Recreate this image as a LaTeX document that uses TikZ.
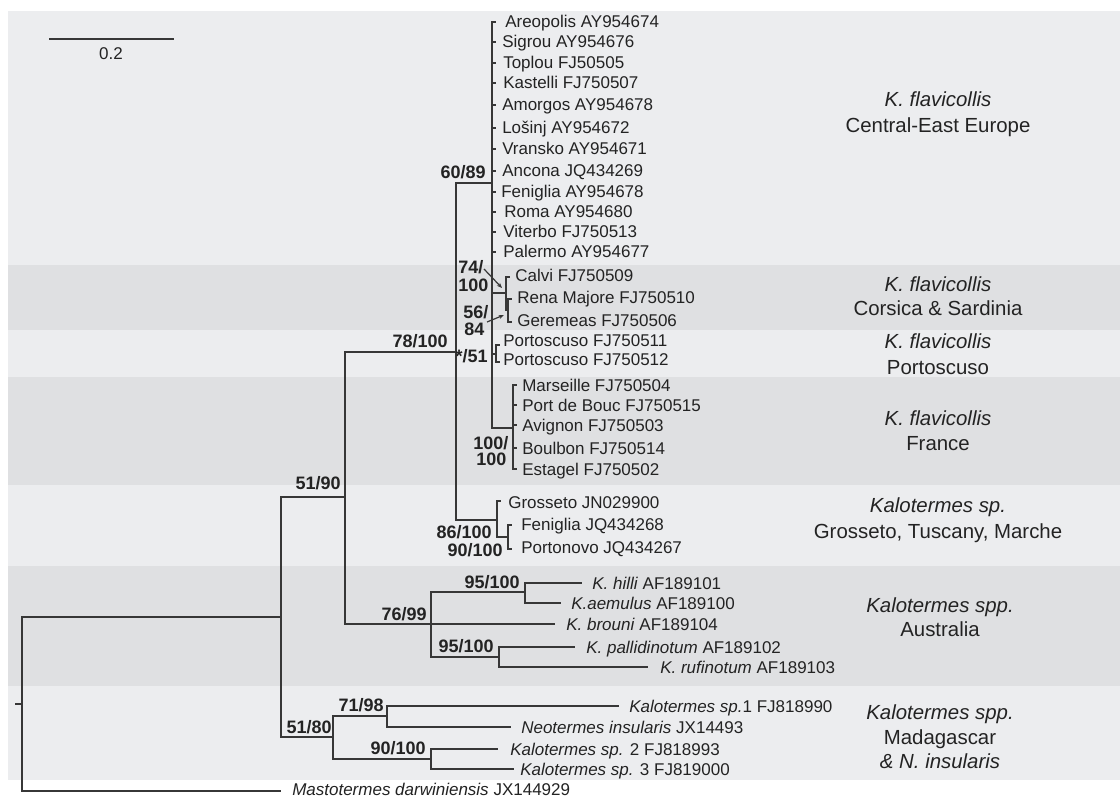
\documentclass[tikz,border=0pt]{standalone}
\usepackage{fontspec}
\setmainfont{Liberation Sans}
\usetikzlibrary{arrows.meta}
\definecolor{bandL}{RGB}{236,237,239}
\definecolor{bandD}{RGB}{223,224,226}
\definecolor{ln}{RGB}{55,55,55}
\definecolor{tx}{RGB}{35,35,35}
\begin{document}
\begin{tikzpicture}[x=0.75pt,y=-0.75pt,
  br/.style={draw=ln,line width=1.25pt},
  tip/.style={font=\fontsize{12.75}{15}\selectfont,text=tx,inner sep=0pt,anchor=base west},
  bs/.style={font=\bfseries\fontsize{13.5}{13.5}\selectfont,text=tx,inner sep=0pt,anchor=base east},
  bsl/.style={font=\bfseries\fontsize{13.5}{13.5}\selectfont,text=tx,inner sep=0pt,anchor=base west},
  grp/.style={font=\fontsize{15.3}{18}\selectfont,text=tx,inner sep=0pt,anchor=base},
  arr/.style={draw=ln,line width=0.9pt,-{Stealth[length=4pt,width=3.2pt]}}
  ]
\useasboundingbox (0,0) rectangle (1120,798);
% background bands
\fill[white] (0,0) rectangle (1120,798);
\fill[bandL] (8,11) rectangle (1120,265);
\fill[bandD] (8,265) rectangle (1120,330);
\fill[bandL] (8,330) rectangle (1120,377);
\fill[bandD] (8,377) rectangle (1120,485);
\fill[bandL] (8,485) rectangle (1120,566);
\fill[bandD] (8,566) rectangle (1120,686);
\fill[bandL] (8,686) rectangle (1120,780);

% scale bar
\coordinate (sb1) at (49,39);
\coordinate (sb2) at (174,39);
\draw[br] (sb1) -- (sb2);
\node[font=\fontsize{12.75}{15}\selectfont,text=tx,inner sep=0pt,anchor=base] (sbl) at (111,60) {0.2};

% internal nodes
\coordinate (rs) at (15,704);
\coordinate (R) at (22,704);
\coordinate (n1) at (281,617);
\coordinate (n2) at (345,497);
\coordinate (n3) at (456,352);
\coordinate (n4) at (492,183);
\coordinate (ncs) at (506,293);
\coordinate (ncs2) at (508,310);
\coordinate (np) at (496,354);
\coordinate (nfr) at (513,428);
\coordinate (ngro) at (497,520);
\coordinate (ngro2) at (508,537);
\coordinate (naus) at (431,624);
\coordinate (naus1) at (525,592);
\coordinate (naus2) at (499,657);
\coordinate (nmad) at (333,737);
\coordinate (nmad1) at (387,716);
\coordinate (nmad2) at (431,759);

% backbone
\draw[br] (rs) -- (R);
\draw[br] (R) |- (n1);
\coordinate (tMas) at (281,791);
\draw[br] (R) |- (tMas);
\draw[br] (n1) |- (n2);
\draw[br] (n1) |- (nmad);
\draw[br] (n2) |- (n3);
\draw[br] (n2) |- (naus);
\draw[br] (n3) |- (n4);
\draw[br] (n3) |- (ngro);
\draw[br] (n4) |- (ncs);
\draw[br] (n4) |- (np);
\draw[br] (n4) |- (nfr);
\draw[br] (ncs) |- (ncs2);
\draw[br] (ngro) |- (ngro2);
\draw[br] (naus) |- (naus1);
\draw[br] (naus) |- (naus2);
\draw[br] (nmad) |- (nmad1);
\draw[br] (nmad) |- (nmad2);

% Central-East Europe tips
\foreach \i/\y/\x/\t in {1/22/505/Areopolis AY954674, 2/42/502/Sigrou AY954676, 3/63/503/Toplou FJ50505, 4/83/503/Kastelli FJ750507, 5/105/502/Amorgos AY954678, 6/128/502/Lošinj AY954672, 7/149/502/Vransko AY954671, 8/171/502/Ancona JQ434269, 9/192/501/Feniglia AY954678, 10/212/504/Roma AY954680, 11/232/503/Viterbo FJ750513, 12/252/503/Palermo AY954677}{
  \coordinate (ce\i) at (495.5,\y);
  \draw[br] (n4) |- (ce\i);
  \node[tip] (cet\i) at (\x,\y+6) {\t};
}

% Corsica & Sardinia
\coordinate (tCal) at (509.5,277);
\coordinate (tRen) at (511.5,299);
\coordinate (tGer) at (511.5,322);
\draw[br] (ncs) |- (tCal);
\draw[br] (ncs2) |- (tRen);
\draw[br] (ncs2) |- (tGer);
\node[tip] (xCal) at (515,282) {Calvi FJ750509};
\node[tip] (xRen) at (517,304) {Rena Majore FJ750510};
\node[tip] (xGer) at (517,327) {Geremeas FJ750506};

% Portoscuso
\coordinate (tP1) at (499.5,345);
\coordinate (tP2) at (499.5,362);
\draw[br] (np) |- (tP1);
\draw[br] (np) |- (tP2);
\node[tip] (xP1) at (503,347) {Portoscuso FJ750511};
\node[tip] (xP2) at (503,365) {Portoscuso FJ750512};

% France
\foreach \i/\y/\t in {1/385/Marseille FJ750504, 2/405/Port de Bouc FJ750515, 3/425/Avignon FJ750503, 4/448/Boulbon FJ750514, 5/469/Estagel FJ750502}{
  \coordinate (fr\i) at (516.5,\y);
  \draw[br] (nfr) |- (fr\i);
  \node[tip] (frt\i) at (522,\y+6) {\t};
}

% Grosseto clade
\coordinate (tGro) at (500.5,501);
\coordinate (tFen) at (511.5,525);
\coordinate (tPor) at (511.5,549);
\draw[br] (ngro) |- (tGro);
\draw[br] (ngro2) |- (tFen);
\draw[br] (ngro2) |- (tPor);
\node[tip] (xGro) at (508,508) {Grosseto JN029900};
\node[tip] (xFen) at (521,530) {Feniglia JQ434268};
\node[tip] (xPor) at (521,553) {Portonovo JQ434267};

% Australia
\coordinate (tHil) at (582,583);
\coordinate (tAem) at (561,603);
\coordinate (tBro) at (555,624);
\coordinate (tPal) at (575,647);
\coordinate (tRuf) at (648,667);
\draw[br] (naus1) |- (tHil);
\draw[br] (naus1) |- (tAem);
\draw[br] (naus) -- (tBro);
\draw[br] (naus2) |- (tPal);
\draw[br] (naus2) |- (tRuf);
\node[tip] (xHil) at (592,589) {\textit{K. hilli} AF189101};
\node[tip] (xAem) at (571,609) {\textit{K.aemulus} AF189100};
\node[tip] (xBro) at (566,630) {\textit{K. brouni} AF189104};
\node[tip] (xPal) at (586,653) {\textit{K. pallidinotum} AF189102};
\node[tip] (xRuf) at (660,673) {\textit{K. rufinotum} AF189103};

% Madagascar
\coordinate (tS1) at (619,706);
\coordinate (tNeo) at (511,727);
\coordinate (tS2) at (498,749);
\coordinate (tS3) at (514,769);
\draw[br] (nmad1) |- (tS1);
\draw[br] (nmad1) |- (tNeo);
\draw[br] (nmad2) |- (tS2);
\draw[br] (nmad2) |- (tS3);
\node[tip] (xS1) at (629,712) {\textit{Kalotermes sp.}1 FJ818990};
\node[tip] (xNeo) at (521,733) {\textit{Neotermes insularis} JX14493};
\node[tip] (xS2) at (510,755) {\textit{Kalotermes sp.} 2 FJ818993};
\node[tip] (xS3) at (520,775) {\textit{Kalotermes sp.} 3 FJ819000};
\node[tip] (xMas) at (292,795.5) {\textit{Mastotermes darwiniensis} JX144929};

% support values
\node[bs] (b6089) at (486,178.5) {60/89};
\node[bs] (b78100) at (448,347.5) {78/100};
\node[bs] (b5190) at (341,489.5) {51/90};
\node[bs] (b7699) at (427,620.5) {76/99};
\node[bs] (b95a) at (520,588.5) {95/100};
\node[bs] (b95b) at (494,652.5) {95/100};
\node[bs] (b5180) at (332,733.5) {51/80};
\node[bs] (b7198) at (384,711.5) {71/98};
\node[bs] (b90m) at (426,754.5) {90/100};
\node[bs] (b86) at (492,538.5) {86/100};
\node[bs] (b90g) at (503,556.5) {90/100};
\node[bs] (b51s) at (488,362.5) {*/51};
\node[bsl] (b74a) at (458,273.5) {74/};
\node[bsl] (b74b) at (458,291.5) {100};
\node[bsl] (b56a) at (463,318.5) {56/};
\node[bsl] (b56b) at (464,335.5) {84};
\node[bsl] (b100a) at (473,449.5) {100/};
\node[bsl] (b100b) at (476,465.5) {100};

% pointer arrows
\coordinate (a74s) at (484,269);
\coordinate (a74e) at (502,288);
\coordinate (a56s) at (487,322);
\coordinate (a56e) at (504,315);
\draw[arr] (a74s) -- (a74e);
\draw[arr] (a56s) -- (a56e);

% group labels
\node[grp] (g1a) at (938,107) {\textit{K. flavicollis}};
\node[grp] (g1b) at (938,133) {Central-East Europe};
\node[grp] (g2a) at (938,292) {\textit{K. flavicollis}};
\node[grp] (g2b) at (938,316) {Corsica \& Sardinia};
\node[grp] (g3a) at (938,349) {\textit{K. flavicollis}};
\node[grp] (g3b) at (938,374) {Portoscuso};
\node[grp] (g4a) at (938,425) {\textit{K. flavicollis}};
\node[grp] (g4b) at (938,450) {France};
\node[grp] (g5a) at (938,512) {\textit{Kalotermes sp.}};
\node[grp] (g5b) at (938,538) {Grosseto, Tuscany, Marche};
\node[grp] (g6a) at (940,612) {\textit{Kalotermes spp.}};
\node[grp] (g6b) at (940,636) {Australia};
\node[grp] (g7a) at (940,719) {\textit{Kalotermes spp.}};
\node[grp] (g7b) at (940,744) {Madagascar};
\node[grp] (g7c) at (940,768) {\textit{\& N. insularis}};
\end{tikzpicture}
\end{document}
